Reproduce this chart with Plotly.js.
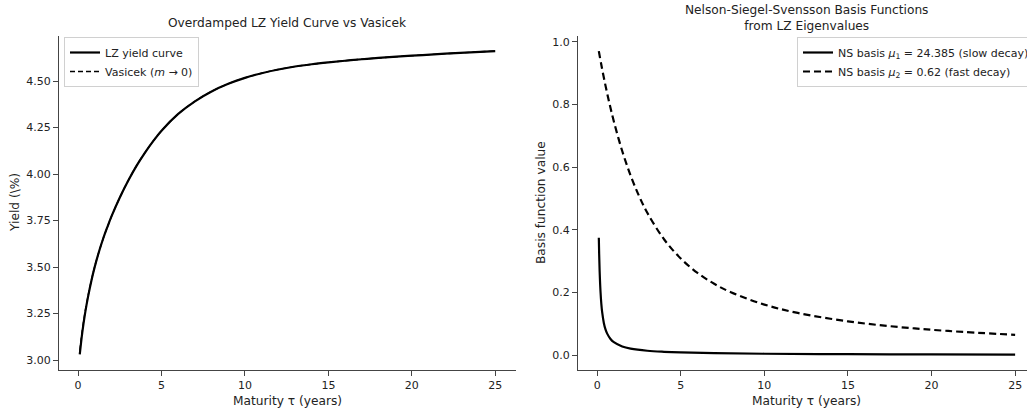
<!DOCTYPE html>
<html>
<head>
<meta charset="utf-8">
<script src="https://cdn.plot.ly/plotly-3.0.1.min.js"></script>
<style>html,body{margin:0;padding:0;background:#fff;overflow:hidden;width:1027px;height:411px;}#chart{width:1027px;height:411px;display:block;overflow:hidden;}</style>
</head>
<body>
<div id="chart"></div>
<script>
// ---- Left panel: yield curves ----
const tauYield = [0.1, 0.25, 0.42, 0.6, 0.8, 1.0, 1.25, 1.5, 1.75, 2.0, 2.5, 3.0, 3.5, 4.0, 4.5, 5.0, 6.0, 7.0, 8.0, 9.0, 10.0, 11.0, 12.0, 13.0, 14.0, 15.0, 16.0, 17.0, 18.0, 20.0, 22.0, 25.0];
const lzYield = [3.030, 3.147, 3.252, 3.342, 3.428, 3.502, 3.582, 3.652, 3.714, 3.772, 3.874, 3.964, 4.044, 4.114, 4.177, 4.233, 4.323, 4.391, 4.444, 4.485, 4.517, 4.542, 4.562, 4.578, 4.590, 4.600, 4.609, 4.617, 4.624, 4.636, 4.647, 4.661];
const vasicekYield = [3.050, 3.160, 3.260, 3.347, 3.431, 3.504, 3.582, 3.652, 3.714, 3.772, 3.874, 3.964, 4.044, 4.114, 4.177, 4.233, 4.323, 4.391, 4.444, 4.485, 4.517, 4.542, 4.562, 4.578, 4.590, 4.600, 4.609, 4.617, 4.624, 4.636, 4.647, 4.661];

// ---- Right panel: NS basis functions ----
const tauSlow = [0.1, 0.12, 0.15, 0.2, 0.25, 0.3, 0.4, 0.5, 0.6, 0.8, 1.0, 1.5, 2, 3, 4, 5, 7, 10, 15, 20, 25];
const basisSlow = [0.3743, 0.3234, 0.2663, 0.2035, 0.1637, 0.1366, 0.1025, 0.0820, 0.0683, 0.0513, 0.0410, 0.0273, 0.0205, 0.0137, 0.0103, 0.0082, 0.0059, 0.0041, 0.0027, 0.0021, 0.0016];
const tauFast = [0.1, 0.25, 0.5, 0.75, 1, 1.5, 2, 2.5, 3, 4, 5, 6, 7, 8, 10, 12, 15, 18, 21, 25];
const basisFast = [0.9697, 0.9263, 0.8598, 0.7997, 0.7453, 0.6510, 0.5731, 0.5082, 0.4539, 0.3695, 0.3080, 0.2623, 0.2274, 0.2002, 0.1610, 0.1343, 0.1075, 0.0896, 0.0768, 0.0645];

const xTicks = [0, 5, 10, 15, 20, 25];
const yTicksLeft = [3.00, 3.25, 3.50, 3.75, 4.00, 4.25, 4.50];
const yTicksRight = [0.0, 0.2, 0.4, 0.6, 0.8, 1.0];

const FONT = 'DejaVu Sans, sans-serif';
const W = 1027, H = 411;

const traces = [
  {x: tauYield, y: lzYield, type: 'scatter', mode: 'lines', name: 'LZ yield curve',
   line: {color: 'black', width: 2.2, shape: 'spline'}, xaxis: 'x', yaxis: 'y', legend: 'legend'},
  {x: tauYield, y: vasicekYield, type: 'scatter', mode: 'lines', name: 'Vasicek (<i>m</i> → 0)',
   line: {color: 'black', width: 1.4, dash: '5px,3px', shape: 'spline'}, xaxis: 'x', yaxis: 'y', legend: 'legend'},
  {x: tauSlow, y: basisSlow, type: 'scatter', mode: 'lines', name: 'NS basis <i>μ</i><sub>1</sub> = 24.385 (slow decay)',
   line: {color: 'black', width: 2.2, shape: 'spline'}, xaxis: 'x2', yaxis: 'y2', legend: 'legend2'},
  {x: tauFast, y: basisFast, type: 'scatter', mode: 'lines', name: 'NS basis <i>μ</i><sub>2</sub> = 0.62 (fast decay)',
   line: {color: 'black', width: 2.2, dash: '7px,4px', shape: 'spline'}, xaxis: 'x2', yaxis: 'y2', legend: 'legend2'}
];

const axisCommon = {
  showline: true, linecolor: '#444', linewidth: 1, mirror: false,
  showgrid: false, zeroline: false,
  ticks: 'outside', ticklen: 5, tickwidth: 1, tickcolor: '#444',
  tickfont: {family: FONT, size: 11, color: '#222'}
};

const yDom = [(H - 369.7) / H, (H - 36) / H];

const layout = {
  width: W, height: H,
  margin: {l: 0, r: 0, t: 0, b: 0, autoexpand: false},
  paper_bgcolor: 'white', plot_bgcolor: 'white',
  font: {family: FONT, color: '#222'},
  xaxis: Object.assign({}, axisCommon, {domain: [59 / W, 516 / W], range: [-1.145, 26.245], tickvals: xTicks, ticktext: xTicks.map(String), anchor: 'y'}),
  yaxis: Object.assign({}, axisCommon, {domain: yDom, range: [2.948, 4.742], tickvals: yTicksLeft, ticktext: yTicksLeft.map(v => v.toFixed(2)), anchor: 'x'}),
  xaxis2: Object.assign({}, axisCommon, {domain: [578 / W, 1], range: [-1.145, 25.71], tickvals: xTicks, ticktext: xTicks.map(String), anchor: 'y2'}),
  yaxis2: Object.assign({}, axisCommon, {domain: yDom, range: [-0.0468, 1.0181], tickvals: yTicksRight, ticktext: yTicksRight.map(v => v.toFixed(1)), anchor: 'x2'}),
  legend: {x: 64 / W, y: (H - 37) / H, xanchor: 'left', yanchor: 'top', bgcolor: 'rgba(255,255,255,0.8)',
           bordercolor: '#d0d0d0', borderwidth: 1, font: {family: FONT, size: 11, color: '#222'}, tracegroupgap: 0, itemwidth: 30},
  legend2: {x: 797 / W, y: (H - 37) / H, xanchor: 'left', yanchor: 'top', bgcolor: 'rgba(255,255,255,0.8)',
           bordercolor: '#d0d0d0', borderwidth: 1, font: {family: FONT, size: 11, color: '#222'}, tracegroupgap: 0, itemwidth: 30},
  showlegend: true,
  annotations: [
    {text: 'Overdamped LZ Yield Curve vs Vasicek', xref: 'paper', yref: 'paper', x: 287.5 / W, y: (H - 23) / H,
     xanchor: 'center', yanchor: 'middle', showarrow: false, font: {family: FONT, size: 12.2, color: '#222'}},
    {text: 'Nelson-Siegel-Svensson Basis Functions<br>from LZ Eigenvalues', xref: 'paper', yref: 'paper', x: 806 / W, y: (H - 17.5) / H,
     xanchor: 'center', yanchor: 'middle', showarrow: false, font: {family: FONT, size: 12.2, color: '#222'}},
    {text: 'Maturity τ (years)', xref: 'paper', yref: 'paper', x: 287.5 / W, y: (H - 401) / H,
     xanchor: 'center', yanchor: 'middle', showarrow: false, font: {family: FONT, size: 12.2, color: '#222'}},
    {text: 'Maturity τ (years)', xref: 'paper', yref: 'paper', x: 806 / W, y: (H - 401) / H,
     xanchor: 'center', yanchor: 'middle', showarrow: false, font: {family: FONT, size: 12.2, color: '#222'}},
    {text: 'Yield (\\%)', xref: 'paper', yref: 'paper', x: 15 / W, y: (H - 203) / H, textangle: -90,
     xanchor: 'center', yanchor: 'middle', showarrow: false, font: {family: FONT, size: 12.2, color: '#222'}},
    {text: 'Basis function value', xref: 'paper', yref: 'paper', x: 541 / W, y: (H - 203) / H, textangle: -90,
     xanchor: 'center', yanchor: 'middle', showarrow: false, font: {family: FONT, size: 12.2, color: '#222'}}
  ]
};

Plotly.newPlot('chart', traces, layout, {staticPlot: true, displayModeBar: false});
</script>
</body>
</html>
